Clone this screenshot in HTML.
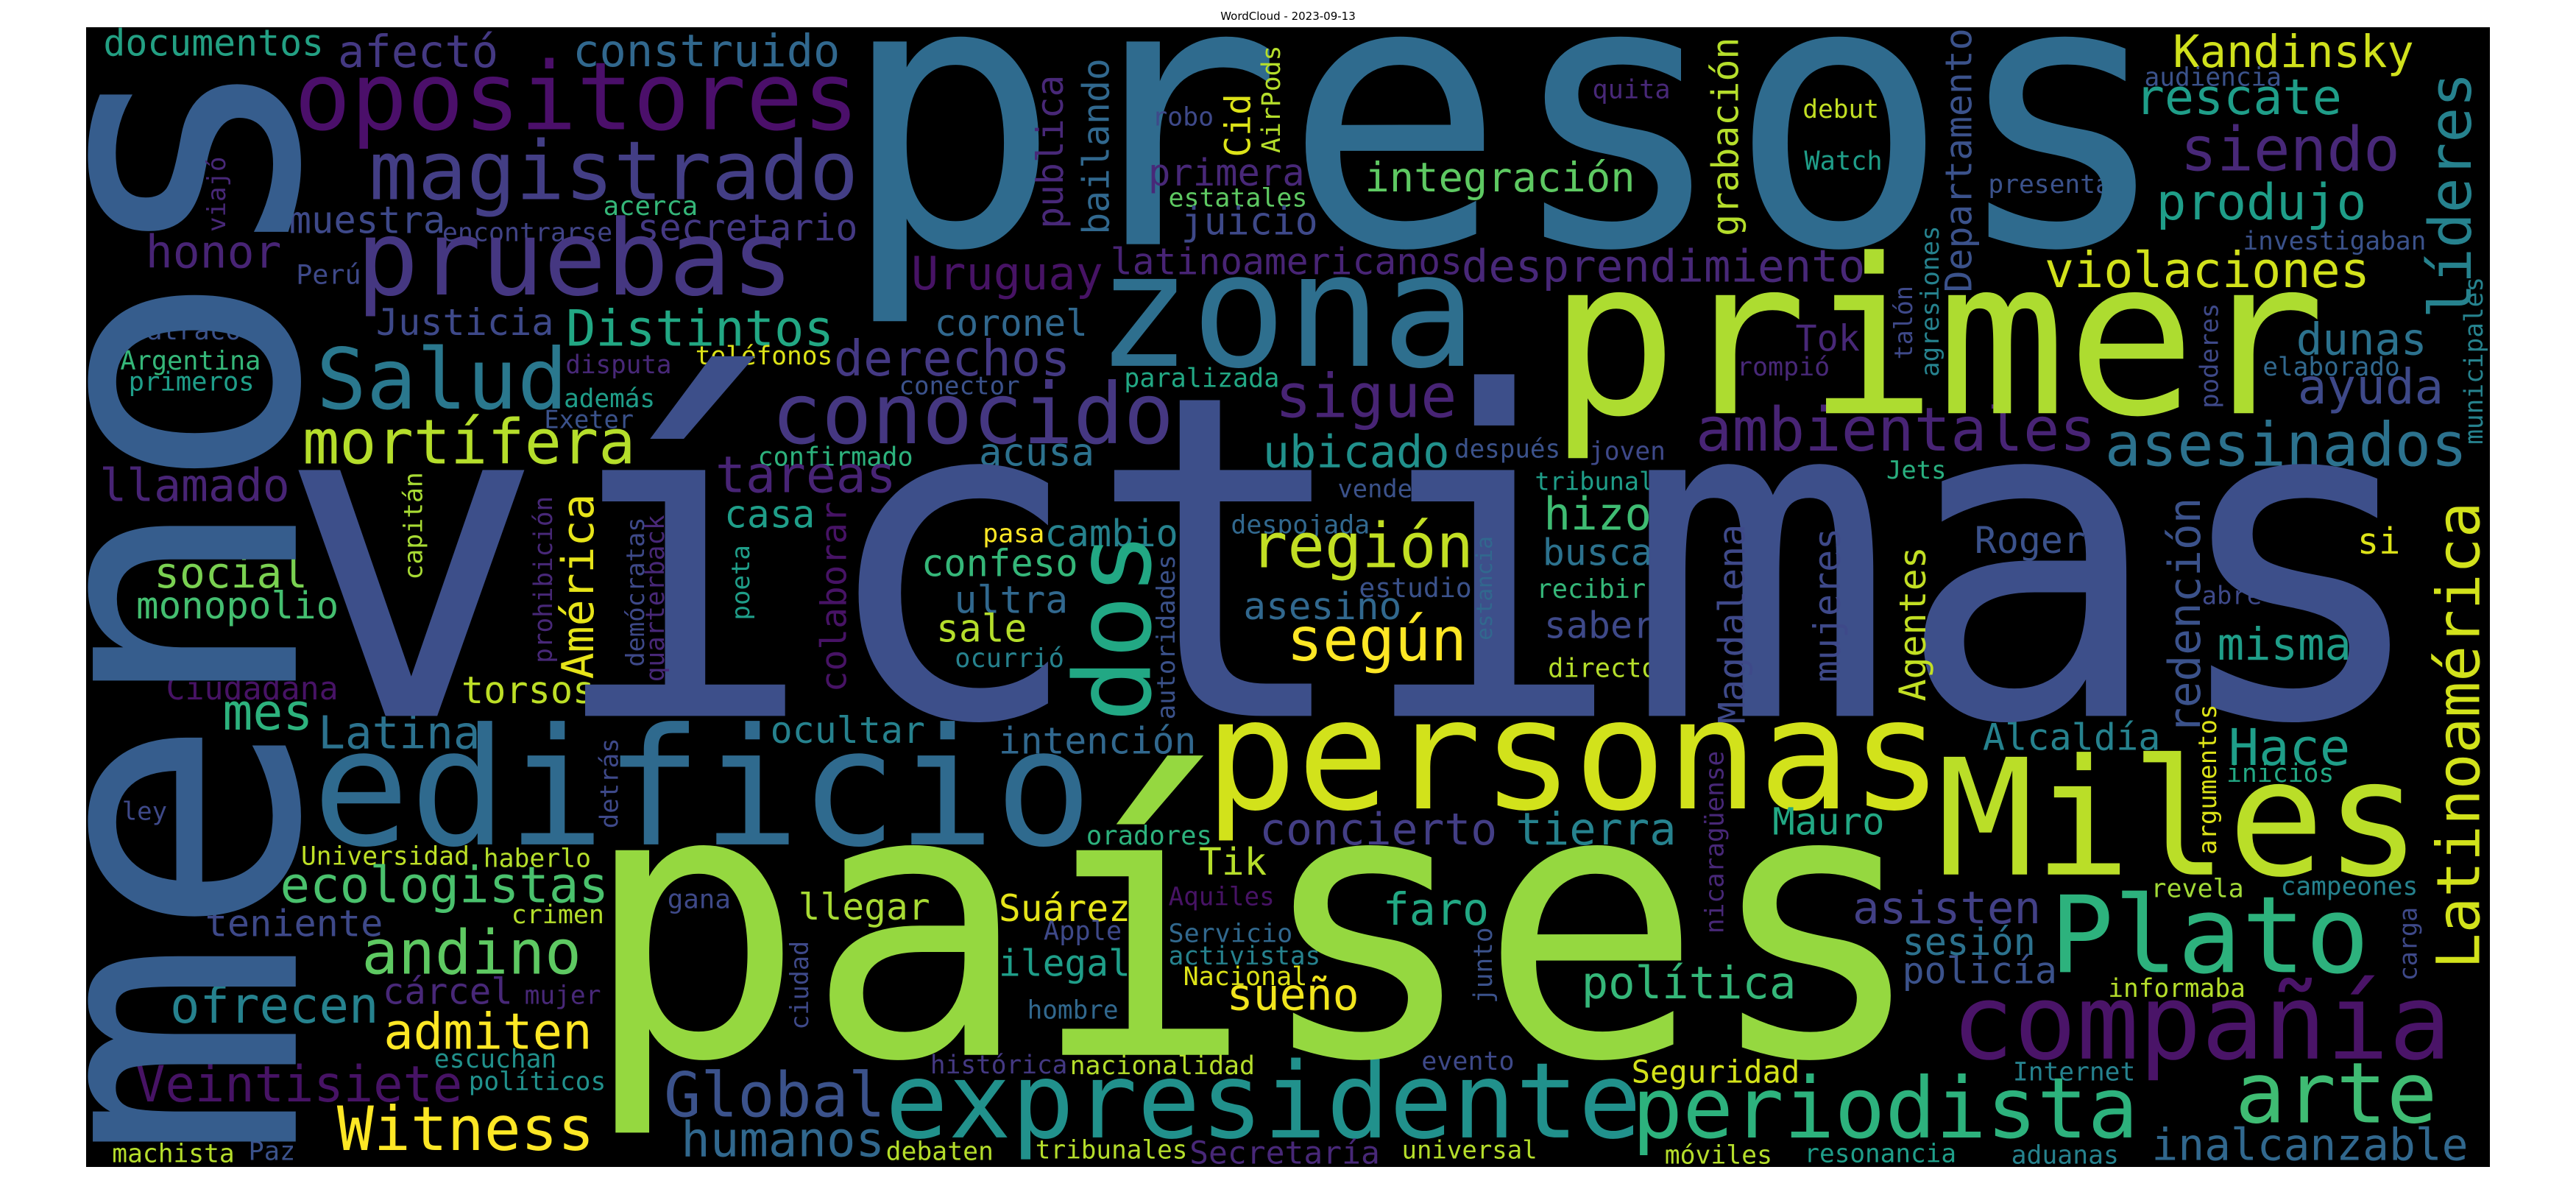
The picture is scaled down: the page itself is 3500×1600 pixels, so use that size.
<!DOCTYPE html>
<html><head><meta charset="utf-8"><title>WordCloud - 2023-09-13</title>
<style>
html,body{margin:0;padding:0;background:#fff;width:3500px;height:1600px;overflow:hidden}
svg{display:block}
text{font-family:"DejaVu Sans Mono","Liberation Mono",monospace}
</style></head>
<body>
<svg id="cloud" width="3500" height="1600" viewBox="0 0 3500 1600" xmlns="http://www.w3.org/2000/svg">
<text x="1750" y="27" text-anchor="middle" style="font-family:'DejaVu Sans','Liberation Sans',sans-serif;font-size:15px" fill="#000">WordCloud - 2023-09-13</text>
<rect x="117" y="37" width="3266" height="1548" fill="#000"/>
<g id="words"></g>
</svg>
<script>
// Horizontal words (coordinates measured in reference grid units)
const hWords=["documentos","afectó","construido","opositores","magistrado","muestra","encontrarse","acerca","secretario","honor","Perú","pruebas","Justicia","Distintos","atraco","Argentina","primeros","Salud","disputa","teléfonos","derechos","coronel","Uruguay","además","conector","Exeter","paralizada","conocido","mortífera","confirmado","acusa","llamado","tareas","casa","pasa","cambio","confeso","social","Kandinsky","audiencia","rescate","quita","debut","Watch","integración","siendo","presenta","produjo","investigaban","latinoamericanos","desprendimiento","violaciones","Tok","rompió","dunas","elaborado","ayuda","ambientales","asesinados","sigue","ubicado","después","joven","Jets","vender","tribunal","hizo","despojada","región","busca","Roger","si","recibir","estudio","asesino","saber","según","directo","misma","abre","Alcaldía","Hace","inicios","personas","Miles","concierto","tierra","Mauro","revela","campeones","faro","asisten","Plato","sesión","policía","política","informaba","compañía","sueño","evento","Internet","Seguridad.","expresidente","periodista","arte","inalcanzable","universal","Secretaría","móviles","resonancia","aduanas","monopolio","ultra","sale","ocurrió","Ciudadana","torsos","mes","Latina","ocultar","intención","edificio","ley","oradores","Universidad","haberlo","Tik","ecologistas","teniente","crimen","gana","llegar","Suárez","Aquiles","andino","Apple","Servicio","activistas","Nacional","ilegal","ofrecen","cárcel","mujer","hombre","admiten","escuchan","Veintisiete","políticos","histórica","nacionalidad","Global","Witness","humanos","machista","Paz","debaten","tribunales","países","víctimas","presos","zona","primer","robo","primera","estatales","juicio"];
const hLeft=[64,207,350,182,227,177,270,368,389,90,181,220,230,346,90,74,79,195,345,424,509,570,556,344,548,332,685,472,186,462,597,62,437,442,599,637,562,95,1324,1306,1301,970,1098,1099,832,1329,1211,1314,1366,677,891,1246,1094,1058,1399,1378,1400,1034,1283,778,770,886,968,1149,815,935,941,750,763,940,1203,1436,936,828,758,941,785,943,1351,1341,1208,1358,1356,738,1184,768,924,1080,1310,1389,843,1129,1251,1159,1159,964,1284,1191,748,866,1226,994,542,996,1363,1311,854,725,1014,1099,1225,84,582,571,582,102,282,137,195,470,609,195,75,662,184,295,731,172,126,312,407,487,609,712,222,636,712,712,721,609,105,234,320,626,235,265,84,286,567,652,406,207,416,69,152,540,631,365,182,522,672,949,702,700,712,720];
const hRight=[196,302,510,520,520,270,372,424,521,170,219,480,336,506,146,158,154,343,408,506,650,661,670,398,620,385,778,712,385,555,665,175,544,495,635,716,655,186,1468,1388,1424,1016,1143,1145,994,1459,1284,1439,1476,889,1134,1441,1131,1113,1476,1460,1486,1274,1500,885,881,949,1013,1184,868,1006,1004,833,895,1005,1268,1460,1001,895,852,1006,891,1008,1430,1376,1314,1429,1420,1178,1469,910,1019,1146,1365,1471,905,1241,1439,1238,1251,1092,1366,1489,826,921,1299,1106,996,1299,1481,1501,935,839,1078,1190,1289,205,649,624,647,205,361,189,291,562,727,660,101,737,285,359,770,369,232,367,444,565,687,775,352,682,786,803,795,687,229,311,365,680,359,338,280,368,649,763,537,360,537,142,179,604,722,1162,1468,1311,894,1409,738,793,795,801];
const hBase=[74,89,88,172,265,310,321,286,320,356,378,392,446,460,452,492,520,544,497,485,500,447,385,542,525,570,515,590,617,620,620,667,655,702,722,727,767,782,89,114,152,131,157,226,255,227,257,292,332,365,375,382,467,500,472,500,537,600,620,555,622,609,612,637,662,652,705,710,755,752,736,737,796,795,824,849,879,901,878,804,998,1018,1041,1076,1164,1124,1124,1111,1194,1191,1231,1229,1294,1271,1309,1329,1327,1409,1344,1424,1438,1441,1514,1514,1494,1544,1542,1549,1549,1547,1549,823,816,854,888,931,936,971,996,989,1003,1124,1091,1124,1151,1154,1164,1201,1246,1229,1209,1224,1226,1205,1296,1251,1254,1284,1311,1299,1361,1336,1336,1356,1396,1421,1466,1451,1429,1430,1486,1531,1539,1547,1544,1544,1542,1404,953,325,487,550,167,247,275,312];
const hColor=["#23a083","#443983","#31688e","#4b0f6a","#433e85","#3e4989","#414487","#35b779","#443983","#482475","#3e4989","#453781","#3e4989","#22a884","#3b528b","#35b779","#1f9e89","#2a788e","#482878","#dde318","#443983","#31688e","#471365","#1f9e89","#3b528b","#3b528b","#22a884","#453781","#b5de2b","#2db27d","#2c728e","#482475","#482475","#1f9e89","#fde725","#26828e","#35b779","#7ad151","#d0e11c","#3b528b","#1f9e89","#482878","#c2df23","#1f9e89","#5ec962","#482878","#3b528b","#1f9e89","#3b528b","#482475","#482878","#d2e21b","#482878","#482878","#2c728e","#31688e","#3e4989","#482475","#2c728e","#482475","#21918c","#3b528b","#3e4989","#29af7f","#3b528b","#1f9e89","#3fbc73","#31688e","#c2df23","#2c728e","#3b528b","#dde318","#35b779","#3b528b","#31688e","#3e4989","#fde725","#b5de2b","#1f9e89","#3e4989","#26828e","#1f9e89","#22a884","#d2e21b","#bade28","#433e85","#26828e","#22a884","#a2da37","#26828e","#22a884","#424086","#2db27d","#2c728e","#3b528b","#35b779","#b5de2b","#4a1468","#f1e51d","#3e4989","#26828e","#d4e21a","#21918c","#2db27d","#3fbc73","#31688e","#b5de2b","#482878","#b5de2b","#1f9e89","#26828e","#44bf70","#31688e","#b5de2b","#26828e","#471365","#bddf26","#2db27d","#2c728e","#26828e","#31688e","#2f6a8e","#3e4989","#2db27d","#bddf26","#b5de2b","#b5de2b","#4ac16d","#3e4989","#b5de2b","#3e4989","#a8db34","#e5e419","#471365","#5ec962","#3e4989","#31688e","#26828e","#dde318","#1f9e89","#26828e","#482878","#482878","#31688e","#fde725","#21918c","#471365","#21918c","#443983","#b5de2b","#3b528b","#fde725","#31688e","#b5de2b","#3b528b","#b5de2b","#b5de2b","#95d840","#3d4f8a","#2f6b8e","#2e6f8e","#addc30","#3e4989","#482878","#5ec962","#3e4989"];
// Vertical words (read bottom-to-top)
const vWords=["menos","viajó","capitán","prohibición","América","demócratas","quarterback","poeta","colaborar","dos","autoridades","detrás","ciudad","estancia","junto","nicaragüense","Magdalena","mujeres","Agentes","redención","Latinoamérica","argumentos","carga","agresiones","talón","poderes","municipales","líderes","Departamento","grabación","publica","bailando","Cid","AirPods"];
const vBase=[180,137,257,336,361,392,404,456,515,700,715,376,492,908,908,1049,1062,1120,1172,1339,1509,1349,1471,1180,1164,1350,1511,1504,1200,1058,647,675,761,779];
const vBottom=[1521,307,770,881,901,886,906,824,919,954,956,1101,1369,851,1334,1241,961,906,931,974,1286,1136,1304,500,477,542,590,420,387,312,302,310,207,202];
const vTop=[88,210,630,662,660,690,687,727,670,715,740,984,1254,715,1236,1001,700,705,730,665,672,939,1209,302,382,405,370,100,40,52,102,80,127,62];
const vColor=["#365d8d","#482878","#a8db34","#482878","#e7e419","#3e4989","#482878","#1f9e89","#471365","#22a884","#3b528b","#3e4989","#3e4989","#31688e","#3b528b","#482878","#3e4989","#3e4989","#c2df23","#3b528b","#d2e21b","#dde318","#3e4989","#26828e","#3e4989","#3e4989","#26828e","#26828e","#3b528b","#b5de2b","#482878","#31688e","#dde318","#b5de2b"];

const SX=3500/1568, SY=1600/1568;
function xScale(v){return v*SX;}
function yScale(v){return v*SY;}
const NS="http://www.w3.org/2000/svg";
const layer=document.getElementById('words');

for(let i=0;i<hWords.length;i++){
  const w=hWords[i], n=[...w].length;
  const inkW=xScale(hRight[i])-xScale(hLeft[i]);
  const size=inkW/(0.6*n-0.1);
  const t=document.createElementNS(NS,'text');
  
  
  t.setAttribute('x',(xScale(hLeft[i])-0.05*size).toFixed(1));
  t.setAttribute('y',yScale(hBase[i]).toFixed(1));
  t.setAttribute('font-size',size.toFixed(1));
  t.setAttribute('textLength',(inkW+0.1*size).toFixed(1));
  t.setAttribute('lengthAdjust','spacingAndGlyphs');
  t.setAttribute('fill',hColor[i]);
  t.textContent=w;
  layer.appendChild(t);
}
for(let i=0;i<vWords.length;i++){
  const w=vWords[i], n=[...w].length;
  const inkL=yScale(vBottom[i])-yScale(vTop[i]);
  const size=inkL/(0.6*n-0.1);
  const t=document.createElementNS(NS,'text');
  
  
  t.setAttribute('x','0');
  t.setAttribute('y','0');
  t.setAttribute('transform','translate('+xScale(vBase[i]).toFixed(1)+','+(yScale(vBottom[i])+0.05*size).toFixed(1)+') rotate(-90)');
  t.setAttribute('font-size',size.toFixed(1));
  t.setAttribute('textLength',(inkL+0.1*size).toFixed(1));
  t.setAttribute('lengthAdjust','spacingAndGlyphs');
  t.setAttribute('fill',vColor[i]);
  t.textContent=w;
  layer.appendChild(t);
}
</script>
</body></html>
